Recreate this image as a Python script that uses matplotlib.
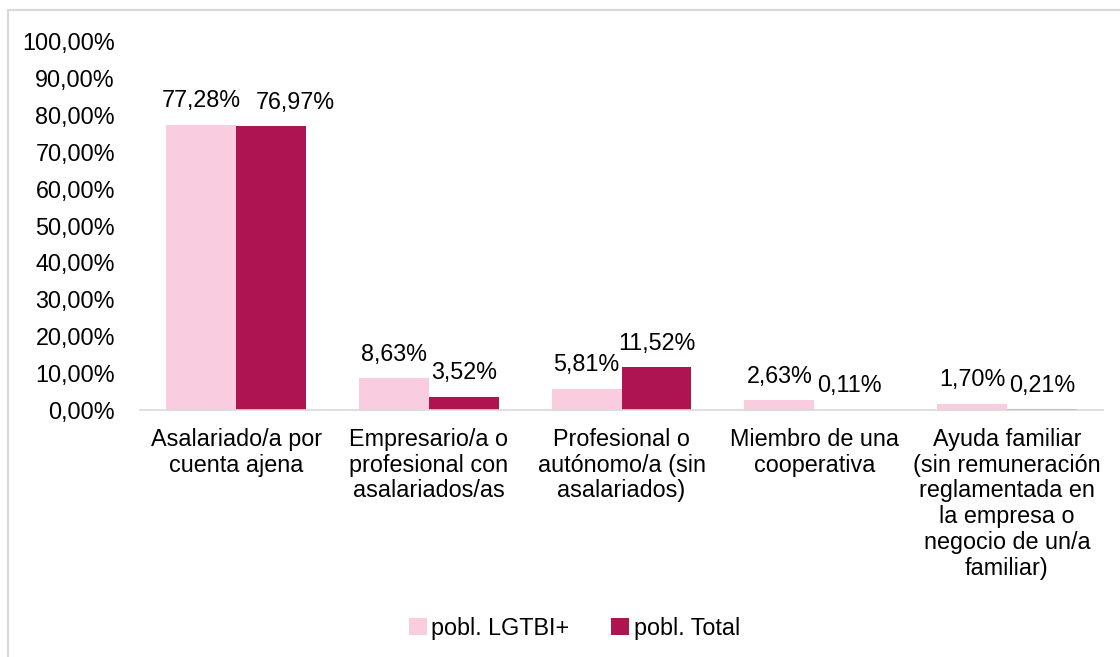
import numpy as np
import matplotlib.pyplot as plt
from matplotlib.lines import Line2D
from matplotlib.ticker import FuncFormatter, MultipleLocator

plt.rcParams['font.family'] = ['Liberation Sans', 'DejaVu Sans']

categories = ['Asalariado/a por\ncuenta ajena',
              'Empresario/a o\nprofesional con\nasalariados/as',
              'Profesional o\nautónomo/a (sin\nasalariados)',
              'Miembro de una\ncooperativa',
              'Ayuda familiar\n(sin remuneración\nreglamentada en\nla empresa o\nnegocio de un/a\nfamiliar)']
lgtbi = [77.28, 8.63, 5.81, 2.63, 1.70]
total = [76.97, 3.52, 11.52, 0.11, 0.21]
series_names = ['pobl. LGTBI+', 'pobl. Total']
colors = ['#F9CCE0', '#AE1450']


def pct(v):
    return f'{v:.2f}'.replace('.', ',') + '%'


fig = plt.figure(figsize=(11.2, 6.57), dpi=100)
ax = fig.add_axes([0.125, 0.376, 0.86, 0.5615])

x = np.arange(len(categories))
w = 0.3625
b1 = ax.bar(x - w / 2, lgtbi, w, color=colors[0], label=series_names[0])
b2 = ax.bar(x + w / 2, total, w, color=colors[1], label=series_names[1])

fs = 16.8
for i, (r, v) in enumerate(zip(b1, lgtbi)):
    ax.annotate(pct(v), (r.get_x() + r.get_width() / 2, v), xytext=(0, 9),
                textcoords='offset points', ha='center', va='bottom', fontsize=fs)
for i, (r, v) in enumerate(zip(b2, total)):
    dx = 17 if i == 0 else 0
    ax.annotate(pct(v), (r.get_x() + r.get_width() / 2, v), xytext=(dx, 9),
                textcoords='offset points', ha='center', va='bottom', fontsize=fs)

ax.set_xlim(-0.5, len(categories) - 0.5)
ax.set_ylim(0, 100)
ax.yaxis.set_major_locator(MultipleLocator(10))
ax.yaxis.set_major_formatter(FuncFormatter(lambda v, p: pct(v)))
ax.set_xticks(x)
ax.set_xticklabels(categories, fontsize=fs, linespacing=1.15, va='top')
ax.tick_params(axis='y', length=0, labelsize=fs, pad=18)
ax.tick_params(axis='x', length=0, pad=13)
for s in ['top', 'right', 'left']:
    ax.spines[s].set_visible(False)
ax.spines['bottom'].set_color('#D9D9D9')
ax.spines['bottom'].set_linewidth(1.2)

fig.legend(loc='center', bbox_to_anchor=(0.513, 0.044), ncol=2, frameon=False,
           fontsize=fs, handlelength=0.75, handleheight=0.75,
           handletextpad=0.2, columnspacing=1.8)

# outer chart frame (top and left edges visible)
fig.add_artist(Line2D([8 / 1120, 1], [1 - 10 / 657, 1 - 10 / 657],
                      transform=fig.transFigure, color='#D9D9D9', lw=1.5))
fig.add_artist(Line2D([8 / 1120, 8 / 1120], [0, 1 - 10 / 657],
                      transform=fig.transFigure, color='#D9D9D9', lw=1.5))

fig.savefig('out.png', dpi=100)
